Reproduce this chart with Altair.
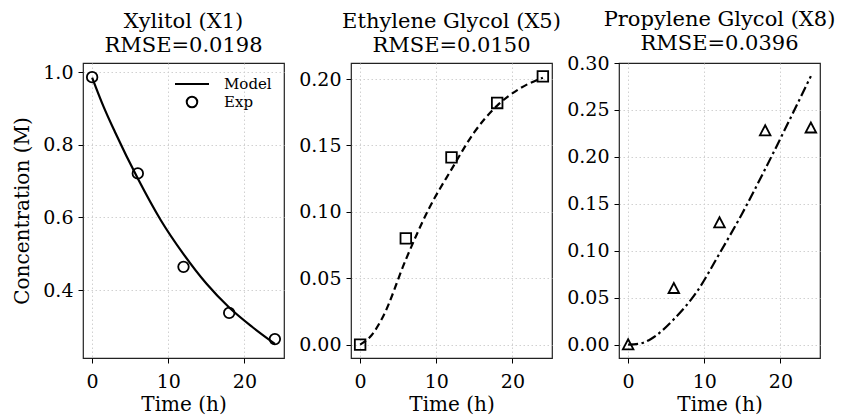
import altair as alt
import pandas as pd

# ---- data ----
time_exp = [0, 6, 12, 18, 24]
xylitol_exp = [0.986, 0.721, 0.464, 0.337, 0.265]
eg_exp = [0.000, 0.080, 0.141, 0.182, 0.202]
pg_exp = [0.000, 0.060, 0.130, 0.228, 0.231]

time_model = [0, 1.5, 3, 6, 9, 12, 15, 18, 21, 24]
xylitol_model = [0.985, 0.905, 0.835, 0.707, 0.593, 0.499, 0.418, 0.352, 0.299, 0.252]
eg_model = [0.000, 0.007, 0.021, 0.064, 0.102, 0.132, 0.160, 0.180, 0.193, 0.201]
pg_model = [0.000, 0.001, 0.006, 0.027, 0.056, 0.097, 0.140, 0.187, 0.236, 0.286]

titles = [["Xylitol (X1)", "RMSE=0.0198"],
          ["Ethylene Glycol (X5)", "RMSE=0.0150"],
          ["Propylene Glycol (X8)", "RMSE=0.0396"]]
x_ticks = [0, 10, 20]
y1_ticks = [0.4, 0.6, 0.8, 1.0]
y2_ticks = [0.00, 0.05, 0.10, 0.15, 0.20]
y3_ticks = [0.00, 0.05, 0.10, 0.15, 0.20, 0.25, 0.30]

FONT = "DejaVu Serif"
LINE_PATH = "M-1,0L1,0"
CIRCLE_PATH = "M-0.31,0A0.31,0.31,0,1,1,0.31,0A0.31,0.31,0,1,1,-0.31,0Z"
SQUARE_PATH = "M-1,-1H1V1H-1Z"
TRI_PATH = "M0,-1L1,0.9L-1,0.9Z"

W, H = 201, 295


def panel(title, m_y, e_y, ydomain, yticks, yfmt, ytitle, dash, shape_path, legend,
          title_offset=7):
    mdf = pd.DataFrame({"t": time_model, "c": m_y})
    edf = pd.DataFrame({"t": time_exp, "c": e_y, "series": ["Exp"] * len(time_exp)})
    x = alt.X("t:Q", scale=alt.Scale(domain=[-1.2, 25.2], nice=False, zero=False),
              axis=alt.Axis(values=x_ticks, format="d", title="Time (h)"))
    # hide a gridline that would sit exactly on the frame
    grid_op = {"condition": {"test": f"datum.value >= {ydomain[1] - 1e-6}", "value": 0},
               "value": 1}
    if ytitle:
        yaxis = alt.Axis(values=yticks, format=yfmt, title=ytitle, gridOpacity=grid_op)
    else:
        yaxis = alt.Axis(values=yticks, format=yfmt, title=None, gridOpacity=grid_op)
    y = alt.Y("c:Q", scale=alt.Scale(domain=ydomain, nice=False, zero=False), axis=yaxis)

    line_kw = dict(color="black", strokeWidth=2.2, interpolate="monotone")
    if dash:
        line_kw["strokeDash"] = dash
    line = alt.Chart(mdf).mark_line(**line_kw).encode(x=x, y=y)

    if legend:
        pts = alt.Chart(edf).mark_point(filled=False, color="black", strokeWidth=1.8,
                                        size=1156, opacity=1).encode(
            x=x, y=y,
            shape=alt.Shape("series:N",
                            scale=alt.Scale(domain=["Model", "Exp"], range=[LINE_PATH, CIRCLE_PATH]),
                            legend=alt.Legend(title=None, orient="top-right", offset=12,
                                              symbolSize=1156, clipHeight=18, rowPadding=0,
                                              labelFont=FONT, labelFontSize=15, labelColor="black",
                                              labelOffset=14, symbolStrokeWidth=2,
                                              symbolStrokeColor="black", padding=0)))
    else:
        pts = alt.Chart(edf).mark_point(filled=False, color="black", strokeWidth=1.8,
                                        size=112, shape=shape_path, opacity=1).encode(x=x, y=y)

    return alt.layer(line, pts).properties(
        width=W, height=H,
        title=alt.TitleParams(text=title, font=FONT, fontSize=21, fontWeight="normal",
                              color="black", lineHeight=24, offset=title_offset))


p1 = panel(titles[0], xylitol_model, xylitol_exp, [0.213, 1.025], y1_ticks, ".1f",
           "Concentration (M)", None, None, True)
p2 = panel(titles[1], eg_model, eg_exp, [-0.0101, 0.2121], y2_ticks, ".2f",
           None, [7, 4], SQUARE_PATH, False)
p3 = panel(titles[2], pg_model, pg_exp, [-0.0143, 0.30], y3_ticks, ".2f",
           None, [10, 3.5, 2.5, 3.5], TRI_PATH, False, title_offset=0)

chart = alt.hconcat(p1, p2, p3, spacing=67, bounds="flush").resolve_scale(
    shape="independent"
).properties(
    padding={"left": 12, "top": 8, "right": 0, "bottom": 0}
).configure_view(
    stroke="#222222", strokeWidth=1.2
).configure_axis(
    domain=False, tickColor="black", tickSize=5, tickWidth=1,
    labelFont=FONT, labelFontSize=19, labelColor="black",
    titleFont=FONT, titleFontSize=20, titleFontWeight="normal", titleColor="black",
    grid=True, gridColor="#cccccc", gridDash=[1.5, 2.5], gridWidth=0.9
).configure_axisX(labelPadding=9, titlePadding=3
).configure_axisY(titlePadding=10, labelPadding=5)

chart.save("out.html", embed_options={"renderer": "svg", "actions": False})
